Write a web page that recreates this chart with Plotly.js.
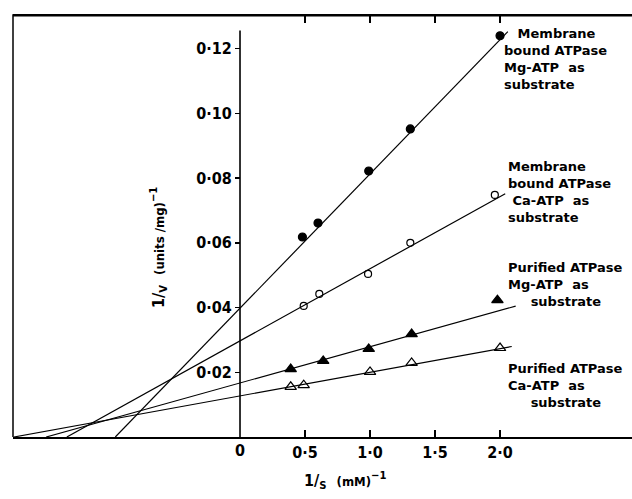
<!DOCTYPE html>
<html>
<head>
<meta charset="utf-8">
<script src="https://cdn.plot.ly/plotly-3.0.1.min.js"></script>
<style>html,body{margin:0;padding:0;background:#fff;}#chart{width:632px;height:499px;}</style>
</head>
<body>
<div id="chart"></div>
<script>
// ---- data ----
const seriesNames = ["Membrane bound ATPase Mg-ATP", "Membrane bound ATPase Ca-ATP", "Purified ATPase Mg-ATP", "Purified ATPase Ca-ATP"];
const memMgX = [0.48, 0.60, 0.99, 1.31, 2.00];
const memMgY = [0.0618, 0.0661, 0.0822, 0.0952, 0.1240];
const memCaX = [0.49, 0.61, 0.985, 1.31, 1.96];
const memCaY = [0.0405, 0.0442, 0.0504, 0.0600, 0.0748];
const purMgX = [0.39, 0.64, 0.99, 1.32, 1.98];
const purMgY = [0.0210, 0.0235, 0.0272, 0.0318, 0.0423];
const purCaX = [0.39, 0.49, 1.00, 1.32, 2.00];
const purCaY = [0.0155, 0.0160, 0.0201, 0.0229, 0.0275];
// fitted Lineweaver-Burk lines (intercept, slope, x where the drawn line stops)
const lineIntercepts = [0.0398, 0.0297, 0.0167, 0.0127];
const lineSlopes = [0.0415, 0.0223, 0.0112, 0.0073];
const lineEnds = [2.06, 2.04, 2.12, 2.09];
const xTickVals = [0.5, 1.0, 1.5, 2.0];
const xTickText = ["0·5", "1·0", "1·5", "2·0"];
const yTickVals = [0.02, 0.04, 0.06, 0.08, 0.10, 0.12];
const yTickText = ["0·02", "0·04", "0·06", "0·08", "0·10", "0·12"];
const groupLabels = [
  "&nbsp;&nbsp;&nbsp;Membrane<br>bound ATPase<br>Mg-ATP&nbsp; as<br>substrate",
  "Membrane<br>bound ATPase<br>&nbsp;Ca-ATP&nbsp; as<br>substrate",
  "Purified ATPase<br>Mg-ATP&nbsp; as<br>&nbsp;&nbsp;&nbsp;&nbsp;&nbsp;substrate",
  "Purified ATPase<br>Ca-ATP&nbsp; as<br>&nbsp;&nbsp;&nbsp;&nbsp;&nbsp;substrate"
];

const FONT = "DejaVu Sans Condensed, DejaVu Sans, sans-serif";
const LFONT = "DejaVu Sans, sans-serif";
const traces = [];
for (let i = 0; i < lineSlopes.length; i++) {
  const x0 = -lineIntercepts[i] / lineSlopes[i];
  const x1 = lineEnds[i];
  traces.push({x: [x0, x1], y: [0, lineIntercepts[i] + lineSlopes[i] * x1],
    mode: "lines", line: {color: "#000", width: 1.2}, hoverinfo: "skip", showlegend: false});
}
const markerDefs = [
  [memMgX, memMgY, "circle", 8],
  [memCaX, memCaY, "circle-open", 7],
  [purMgX, purMgY, "triangle-up", 10],
  [purCaX, purCaY, "triangle-up-open", 10]
];
markerDefs.forEach((d, i) => traces.push({x: d[0], y: d[1], name: seriesNames[i], mode: "markers",
  marker: {symbol: d[2], size: d[3], color: "#000", line: {color: "#000", width: 1.2}}, showlegend: false}));

const L = 13, T = 16, W = 619, H = 421;
const px2paperX = p => (p - L) / W;
const px2paperY = p => (T + H - p) / H;
const groupPos = [[502, 59], [506, 192.5], [506, 284], [506, 385]];
const annotations = groupLabels.map((t, i) => ({text: t, xref: "paper", yref: "paper",
  x: px2paperX(groupPos[i][0]), y: px2paperY(groupPos[i][1]), xanchor: "left", yanchor: "middle", align: "left",
  showarrow: false, font: {family: LFONT, size: 13, color: "#000", weight: "bold"}}));
annotations.push({text: "0", xref: "x", yref: "y", x: 0, y: 0, yshift: -13, xanchor: "center", yanchor: "middle",
  showarrow: false, font: {family: FONT, size: 16, color: "#000", weight: "bold"}});
annotations.push({text: "1/<sub>S</sub>  <span style='font-size:13px'>(mM)</span><sup>−1</sup>", xref: "paper", yref: "paper",
  x: px2paperX(345), y: px2paperY(481), xanchor: "center", yanchor: "middle", showarrow: false,
  font: {family: FONT, size: 16, color: "#000", weight: "bold"}});
annotations.push({text: "1/<sub>V</sub>  <span style='font-size:13px'>(units /mg)</span><sup>−1</sup>", xref: "paper", yref: "paper",
  x: px2paperX(158), y: px2paperY(248), xanchor: "center", yanchor: "middle", textangle: -90, showarrow: false,
  font: {family: FONT, size: 16, color: "#000", weight: "bold"}});

const xRange = [-1.746, 3.015];
const layout = {
  width: 632, height: 499,
  margin: {l: L, r: 0, t: T, b: 62, pad: 0},
  paper_bgcolor: "#fff", plot_bgcolor: "#fff",
  showlegend: false,
  xaxis: {range: xRange, showline: true, linewidth: 1.5, linecolor: "#000", mirror: "ticks",
    ticks: "inside", ticklen: 7, tickwidth: 1.5, tickcolor: "#000", tickvals: xTickVals, ticktext: xTickText,
    showgrid: false, zeroline: false, tickfont: {family: FONT, size: 16, color: "#000", weight: "bold"}},
  yaxis: {range: [0, 0.1301], ticks: "", tickvals: [], showline: false, showgrid: false, zeroline: false, showticklabels: false},
  yaxis2: {range: [0, 0.1301], overlaying: "y", anchor: "free", position: px2paperX(240), ticks: "outside", ticklen: 5, tickwidth: 1.5,
    tickcolor: "#000", tickvals: yTickVals, ticktext: yTickText, showline: false, showgrid: false, zeroline: false,
    tickfont: {family: FONT, size: 16, color: "#000", weight: "bold"}},
  shapes: [
    {type: "line", xref: "x", yref: "y", x0: 0, x1: 0, y0: 0, y1: 0.1256, line: {color: "#000", width: 1.6}},
    {type: "line", xref: "paper", yref: "paper", x0: 0, x1: 0, y0: 0, y1: 1.004, line: {color: "#000", width: 1.5}},
    {type: "rect", xref: "paper", yref: "paper", x0: 0, x1: 1, y0: 0.999, y1: 1.0045, fillcolor: "#000", line: {width: 0}}
  ],
  annotations: annotations
};
// ghost trace on yaxis2 so the free tick axis is drawn
traces.push({x: [xTickVals[0]], y: [yTickVals[0]], yaxis: "y2", mode: "markers", marker: {opacity: 0}, hoverinfo: "skip", showlegend: false});
Plotly.newPlot("chart", traces, layout, {staticPlot: true, displayModeBar: false});
</script>
</body>
</html>
